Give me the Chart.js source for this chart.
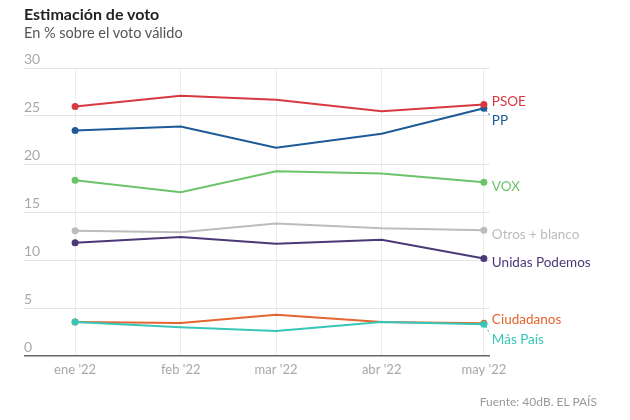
<!DOCTYPE html>
<html>
<head>
<meta charset="utf-8">
<script src="https://cdn.jsdelivr.net/npm/chart.js@4"></script>
<style>
  body { margin: 0; background: #fff; font-family: Lato, "Open Sans", sans-serif; }
  .wrap { position: relative; width: 630px; height: 420px; }
  .title { position: absolute; left: 24px; top: 4px; font-size: 16px; font-weight: 700; color: #222; }
  .sub { position: absolute; left: 24px; top: 24px; font-size: 14.5px; color: #555; }
  .src { position: absolute; right: 33px; top: 394px; font-size: 12px; color: #999; }
  canvas { position: absolute; left: 0; top: 0; }
</style>
</head>
<body>
<div class="wrap">
  <canvas id="chart" width="630" height="420"></canvas>
  <div class="title">Estimación de voto</div>
  <div class="sub">En % sobre el voto válido</div>
  <div class="src">Fuente: 40dB. EL PAÍS</div>
</div>
<script>
// days since 1 jan 2022 for each survey
const days = [0, 31, 59, 90, 120];
const months = ["ene '22", "feb '22", "mar '22", "abr '22", "may '22"];

const psoe = [26.0, 27.1, 26.7, 25.5, 26.2];
const pp = [23.5, 23.9, 21.7, 23.15, 25.8];
const vox = [18.3, 17.05, 19.25, 19.0, 18.1];
const otros = [13.05, 12.9, 13.8, 13.3, 13.1];
const podemos = [11.8, 12.4, 11.7, 12.1, 10.15];
const masPais = [3.55, 3.0, 2.6, 3.55, 3.3];
const ciudadanos = [3.55, 3.45, 4.3, 3.55, 3.4];

const yTicks = [0, 5, 10, 15, 20, 25, 30];

const series = [
  { name: 'PSOE', values: psoe, color: '#d8383f', dy: -3 },
  { name: 'PP', values: pp, color: '#1d5b98', dy: 12 },
  { name: 'VOX', values: vox, color: '#6cc46a', dy: 4 },
  { name: 'Otros + blanco', values: otros, color: '#bcbcbc', dy: 4 },
  { name: 'Unidas Podemos', values: podemos, color: '#4b3878', dy: 4 },
  { name: 'Más País', values: masPais, color: '#38c6b8', dy: 15 },
  { name: 'Ciudadanos', values: ciudadanos, color: '#e4652f', dy: -4 }
];

const endLabels = {
  id: 'endLabels',
  afterDatasetsDraw(chart) {
    const c = chart.ctx;
    const x = chart.scales.x;
    const y = chart.scales.y;
    c.save();
    c.font = '13.5px Lato, "Open Sans", sans-serif';
    c.textBaseline = 'middle';
    c.textAlign = 'left';
    series.forEach(s => {
      const last = s.values.length - 1;
      const px = x.getPixelForValue(days[last]);
      const py = y.getPixelForValue(s.values[last]);
      const ly = py + s.dy;
      if (Math.abs(s.dy) > 6) {
        c.strokeStyle = s.color;
        c.lineWidth = 1;
        c.setLineDash([2, 2]);
        c.beginPath();
        c.moveTo(px + 2, py + Math.sign(s.dy) * 2);
        c.lineTo(px + 6, ly - Math.sign(s.dy) * 5);
        c.stroke();
        c.setLineDash([]);
      }
      c.fillStyle = s.color;
      c.fillText(s.name, px + 8, ly);
    });
    c.restore();
  }
};

var ctx = document.getElementById('chart').getContext('2d');
var chart = new Chart(ctx, {
  type: 'line',
  data: {
    datasets: series.map(s => ({
      label: s.name,
      data: s.values.map((v, i) => ({ x: days[i], y: v })),
      borderColor: s.color,
      backgroundColor: s.color,
      borderWidth: 2,
      tension: 0,
      pointRadius: c => (c.dataIndex === 0 || c.dataIndex === days.length - 1) ? 3.5 : 0,
      pointBorderWidth: 0
    }))
  },
  options: {
    responsive: false,
    animation: false,
    layout: { padding: { left: 24, top: 68, right: 140, bottom: 34 } },
    plugins: {
      legend: { display: false },
      tooltip: { enabled: false }
    },
    scales: {
      x: {
        type: 'linear',
        min: -15,
        max: 121.8,
        afterBuildTicks: s => { s.ticks = days.map(d => ({ value: d })); },
        afterFit: s => { s.height = 30; },
        grid: { color: '#ebebeb', drawTicks: false },
        border: { display: false },
        ticks: {
          padding: 6,
          color: '#a8a8a8',
          font: { family: 'Lato', size: 13 },
          callback: v => months[days.indexOf(v)]
        }
      },
      y: {
        min: 0,
        max: 30,
        afterBuildTicks: s => { s.ticks = yTicks.map(v => ({ value: v })); },
        grid: {
          drawTicks: false,
          color: c => c.tick && c.tick.value === 0 ? '#666' : '#e6e6e6',
          lineWidth: c => c.tick && c.tick.value === 0 ? 1.5 : 1
        },
        border: { display: false },
        ticks: {
          mirror: true,
          padding: 0,
          labelOffset: -9,
          color: '#a8a8a8',
          font: { family: 'Lato', size: 14 }
        }
      }
    }
  },
  plugins: [endLabels]
});
</script>
</body>
</html>
